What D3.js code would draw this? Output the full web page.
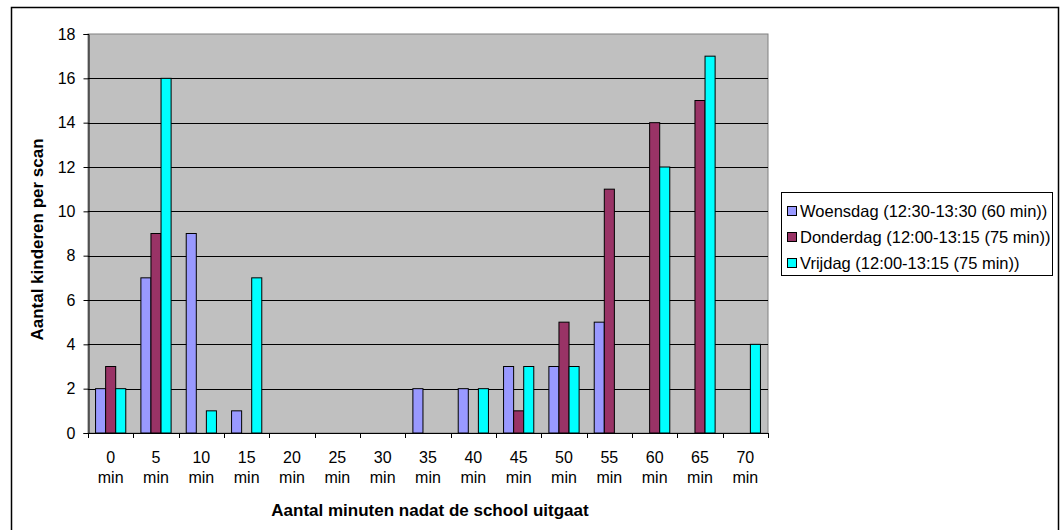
<!DOCTYPE html>
<html>
<head>
<meta charset="utf-8">
<script src="https://cdn.jsdelivr.net/npm/d3@7"></script>
<style>
  body { margin: 0; background: #fff; }
  text { font-family: Arial, "Liberation Sans", sans-serif; }
</style>
</head>
<body>
<script>
const categories = [0, 5, 10, 15, 20, 25, 30, 35, 40, 45, 50, 55, 60, 65, 70]
const woensdag = [2, 7, 9, 1, 0, 0, 0, 2, 2, 3, 3, 5, 0, 0, 0]
const donderdag = [3, 9, 0, 0, 0, 0, 0, 0, 0, 1, 5, 11, 14, 15, 0]
const vrijdag = [2, 16, 1, 7, 0, 0, 0, 0, 2, 3, 3, 0, 12, 17, 4]
const seriesNames = [
  'Woensdag (12:30-13:30 (60 min))',
  'Donderdag (12:00-13:15 (75 min))',
  'Vrijdag (12:00-13:15 (75 min))'
]
const colors = ['#9999FF', '#993366', '#00FFFF']
const yTicks = [0, 2, 4, 6, 8, 10, 12, 14, 16, 18]

const W = 1062
const H = 530
const plot = { left: 88, top: 34, right: 768, bottom: 433 }

const svg = d3.select('body').append('svg')
  .attr('width', W)
  .attr('height', H)

// outer chart border (bottom edge falls off the picture)
svg.append('rect')
  .attr('x', 11.5).attr('y', 7.5)
  .attr('width', 1047).attr('height', 530)
  .attr('fill', 'none')
  .attr('stroke', '#000')
  .attr('stroke-width', 1.5)

const x = d3.scaleBand()
  .domain(categories)
  .range([plot.left, plot.right])
  .paddingInner(0).paddingOuter(0)

// gap width 150% -> band holds 4.5 bar widths
const barW = x.bandwidth() / 4.5
const x1 = d3.scaleBand()
  .domain([0, 1, 2])
  .range([barW * 0.75, barW * 3.75])

const y = d3.scaleLinear()
  .domain([0, 18])
  .range([plot.bottom, plot.top])

// plot background
svg.append('rect')
  .attr('x', plot.left).attr('y', plot.top)
  .attr('width', plot.right - plot.left)
  .attr('height', plot.bottom - plot.top)
  .attr('fill', '#C0C0C0')
  .attr('stroke', '#808080')
  .attr('stroke-width', 1)

// gridlines
svg.append('g')
  .selectAll('line')
  .data(yTicks.filter(d => d > 0 && d < 18))
  .enter().append('line')
  .attr('x1', plot.left).attr('x2', plot.right)
  .attr('y1', d => Math.round(y(d)) + 0.5)
  .attr('y2', d => Math.round(y(d)) + 0.5)
  .attr('stroke', '#000')
  .attr('stroke-width', 1)

// bars
const seriesData = [woensdag, donderdag, vrijdag]
seriesData.forEach((vals, si) => {
  svg.append('g')
    .selectAll('rect')
    .data(vals.map((v, i) => ({ cat: categories[i], v })).filter(d => d.v > 0))
    .enter().append('rect')
    .attr('x', d => x(d.cat) + x1(si))
    .attr('y', d => y(d.v))
    .attr('width', x1.bandwidth())
    .attr('height', d => y(0) - y(d.v))
    .attr('fill', colors[si])
    .attr('stroke', '#000')
    .attr('stroke-width', 1)
})

// y axis
const yAxis = d3.axisLeft(y)
  .tickValues(yTicks)
  .tickSize(5)
  .tickPadding(8)
const yg = svg.append('g')
  .attr('transform', `translate(${plot.left + 0.5},0)`)
  .call(yAxis)
yg.attr('font-size', null).attr('font-family', null)
yg.select('.domain').attr('stroke', '#000')
yg.selectAll('text')
  .attr('font-size', 16)
  .attr('fill', '#000')

// x axis: tick marks at band edges
const xg = svg.append('g')
svg.append('line')
  .attr('x1', plot.left).attr('x2', plot.right)
  .attr('y1', plot.bottom + 0.5).attr('y2', plot.bottom + 0.5)
  .attr('stroke', '#000')
xg.selectAll('line')
  .data(categories.concat(['end']))
  .enter().append('line')
  .attr('x1', d => Math.round(d === 'end' ? plot.right : x(d)) + 0.5)
  .attr('x2', d => Math.round(d === 'end' ? plot.right : x(d)) + 0.5)
  .attr('y1', plot.bottom)
  .attr('y2', plot.bottom + 5)
  .attr('stroke', '#000')

const xl = svg.append('g')
  .selectAll('text')
  .data(categories)
  .enter().append('text')
  .attr('x', d => x(d) + x.bandwidth() / 2)
  .attr('text-anchor', 'middle')
  .attr('font-size', 16)
  .attr('fill', '#000')
xl.append('tspan')
  .attr('x', d => x(d) + x.bandwidth() / 2)
  .attr('y', 463)
  .text(d => d)
xl.append('tspan')
  .attr('x', d => x(d) + x.bandwidth() / 2)
  .attr('y', 483)
  .text('min')

// axis titles
svg.append('text')
  .attr('x', (plot.left + plot.right) / 2 + 2)
  .attr('y', 516)
  .attr('text-anchor', 'middle')
  .attr('font-size', 17)
  .attr('font-weight', 'bold')
  .text('Aantal minuten nadat de school uitgaat')

svg.append('text')
  .attr('transform', `translate(43,${(plot.top + plot.bottom) / 2 + 6}) rotate(-90)`)
  .attr('text-anchor', 'middle')
  .attr('font-size', 17)
  .attr('font-weight', 'bold')
  .text('Aantal kinderen per scan')

// legend
const lg = svg.append('g')
lg.append('rect')
  .attr('x', 781.5).attr('y', 192.5)
  .attr('width', 271).attr('height', 83)
  .attr('fill', '#fff')
  .attr('stroke', '#000')
  .attr('stroke-width', 1)
seriesNames.forEach((name, i) => {
  const base = 217 + i * 26
  lg.append('rect')
    .attr('x', 787.5).attr('y', base - 10.5)
    .attr('width', 9).attr('height', 9)
    .attr('fill', colors[i])
    .attr('stroke', '#000')
  lg.append('text')
    .attr('x', 800).attr('y', base)
    .attr('font-size', 16.5)
    .text(name)
})
</script>
</body>
</html>
